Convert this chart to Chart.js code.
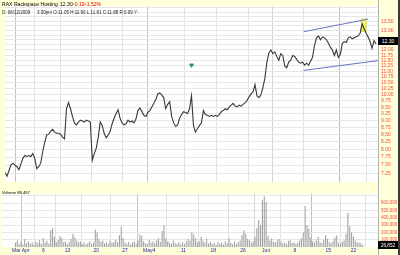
<!DOCTYPE html>
<html><head><meta charset="utf-8">
<script src="https://cdn.jsdelivr.net/npm/chart.js@4.4.0/dist/chart.umd.min.js"></script>
<style>
html,body{margin:0;padding:0;background:#fff;}
#wrap{position:relative;width:400px;height:255px;overflow:hidden;background:#ffffd8;}
canvas{position:absolute;left:0;}
#c1{top:0;}
#c2{top:188px;}
.t{position:absolute;font-family:'Liberation Sans',Arial,sans-serif;white-space:nowrap;line-height:1;transform-origin:0 0;transform:scale(0.5);}
.box{position:absolute;left:378px;width:20px;height:8px;background:#000;}
.box span{position:absolute;left:0;top:0;width:40px;height:16px;line-height:16px;text-align:center;color:#fff;font-family:'Liberation Sans',Arial,sans-serif;transform-origin:0 0;transform:scale(0.5);}
</style></head><body>
<div id="wrap">
<canvas id="c1" width="400" height="188" style="width:400px;height:188px"></canvas>
<canvas id="c2" width="400" height="67" style="width:400px;height:67px"></canvas>
<div class="t" style="left:2px;top:2px;font-size:10.2px;color:#000">RAX Rackspace Hosting</div>
<div class="t" style="left:60px;top:2px;font-size:10.2px;color:#000">12.30</div>
<div class="t" style="left:73px;top:2px;font-size:10.2px;color:#e00000">-0.19</div>
<div class="t" style="left:85px;top:2px;font-size:10.2px;color:#e00000">-1.52%</div>
<div class="t" style="left:2px;top:10px;font-size:9px;color:#222">D: 06/12/2009</div>
<div class="t" style="left:37px;top:10px;font-size:9px;color:#222">3:30pm O:11.05 H:11.90 L:11.81 C:11.88 R:0.09 Y:</div>
<div class="t" style="left:2px;top:190px;font-size:8.4px;color:#000">Volume 88,467</div>
<div class="box" style="top:37px;"><span style="font-size:10px">12.30</span></div>
<div class="box" style="top:241px;"><span style="font-size:9.2px">26,852</span></div>
</div>
<script>
// ---- data ----
const closePrices = [7.27,7.17,7.33,7.50,7.56,7.50,7.45,7.36,7.53,7.71,7.80,7.77,7.80,7.77,7.86,7.71,7.39,7.45,7.56,7.92,
8.22,8.48,8.51,8.61,8.68,8.58,8.54,8.54,8.51,8.41,8.35,9.44,9.68,9.44,9.15,8.91,8.84,8.94,9.01,8.98,
8.94,9.01,8.98,8.94,7.65,7.86,8.04,8.41,8.94,8.81,8.54,8.38,8.48,8.61,8.88,9.08,9.26,9.40,9.08,8.91,
8.84,8.88,9.01,8.94,8.98,8.91,9.05,9.37,9.47,9.33,9.19,9.15,9.30,9.37,9.51,9.65,9.80,10.03,10.07,9.99,
9.88,9.44,9.61,9.72,9.15,8.91,8.78,8.84,9.08,9.22,9.33,9.30,9.26,9.44,9.95,8.81,8.58,8.71,8.81,8.91,
9.37,9.22,9.19,9.15,9.19,9.15,9.19,9.15,9.22,9.33,9.37,9.44,9.40,9.51,9.58,9.65,9.54,9.51,9.58,9.54,
9.61,9.68,9.76,9.91,10.03,10.11,10.42,9.95,9.88,9.99,10.30,10.70,11.42,11.86,12.00,11.82,11.91,11.69,11.51,11.82,
11.73,11.24,11.16,11.42,11.51,11.73,11.69,11.55,11.42,11.37,11.42,11.28,11.37,11.28,11.46,11.64,12.23,12.61,12.71,12.51,
12.66,12.61,12.51,12.33,12.14,12.00,11.73,12.00,11.64,11.78,12.33,12.42,12.37,12.61,12.66,12.56,12.61,12.66,12.71,12.85,
13.35,13.09,12.85,12.66,12.42,12.09,12.47,12.30];

const volumes = [60000,90000,40000,70000,35000,110000,50000,80000,45000,65000,30000,75000,50000,95000,40000,120000,60000,85000,45000,230000,
260000,140000,70000,95000,150000,120000,60000,80000,40000,70000,110000,180000,130000,90000,60000,75000,40000,65000,35000,55000,
80000,40000,60000,240000,200000,110000,70000,90000,50000,65000,40000,85000,55000,70000,95000,60000,160000,280000,120000,60000,
45000,70000,35000,60000,80000,45000,90000,170000,150000,80000,55000,40000,95000,60000,75000,50000,90000,120000,70000,220000,
300000,120000,80000,60000,45000,90000,55000,40000,70000,35000,60000,45000,80000,110000,90000,200000,170000,120000,60000,80000,
140000,90000,60000,110000,50000,75000,40000,55000,30000,70000,45000,60000,35000,80000,50000,120000,60000,40000,75000,45000,
65000,90000,160000,230000,180000,110000,95000,60000,80000,140000,260000,370000,300000,640000,690000,620000,150000,90000,120000,70000,
60000,90000,110000,75000,50000,60000,40000,85000,100000,55000,70000,40000,60000,90000,120000,200000,560000,300000,250000,130000,
80000,60000,90000,140000,70000,50000,95000,160000,110000,70000,50000,80000,130000,160000,60000,45000,75000,90000,180000,470000,
280000,200000,140000,90000,60000,60000,50000,26852];

const tickIdx    = [0.5, 5.5, 15, 28, 43.5, 59, 72, 90.5, 106.5, 122.5, 135, 150.5, 168.5, 182];
const tickLabels = ['Mar','Apr','6','13','20','27','May4','11','18','26','Jun','8','15','22'];

const priceTicks = [7.25,7.5,7.75,8,8.25,8.5,8.75,9,9.25,9.5,9.75,10,10.25,10.5,10.75,11,11.25,11.5,11.75,12,12.25,12.5,12.75,13,13.25,13.5,13.75,14,14.25];
const priceLabelled = [7.25,7.5,7.75,8,8.25,8.5,8.75,9,9.25,9.5,9.75,10,10.25,10.5,10.75,11,11.25,11.5,11.75,12,12.5,13,13.5];
const volTicks = [100000,200000,300000,400000,500000,600000,700000];
const volLabelled = [100000,200000,300000,400000,500000,600000];

const upperChannelIdx = [150.5, 183];
const upperChannelVal = [12.93, 13.61];
const lowerChannelIdx = [150.5, 188];
const lowerChannelVal = [11.04, 11.49];
const markerIdx = [94];
const markerVal = [11.28];
const hiliteIdx = [179.5, 182];
const hiliteVal = [12.93, 13.62];

// ---- styles ----
const gridColX = ['rgba(0,0,0,0)','#c4c4c4','#e2e2e2','#e2e2e2','#e2e2e2','#e2e2e2','#c4c4c4','#e2e2e2','#e2e2e2','#e2e2e2','#d4d4d4','#e2e2e2','#f2a4a4','#e2e2e2'];
const fontFam = "'Liberation Sans', Arial, sans-serif";

const frame = {
  id:'frame',
  beforeDraw(chart){
    const {ctx, chartArea:a, width, height} = chart;
    ctx.save();
    ctx.fillStyle = '#ffffd8'; ctx.fillRect(0,0,width,height);
    ctx.fillStyle = '#ffffff'; ctx.fillRect(a.left, a.top, a.right-a.left, a.bottom-a.top);
    ctx.restore();
  },
  afterDraw(chart){
    const {ctx, chartArea:a, width, height} = chart;
    ctx.save();
    ctx.strokeStyle = '#b0b0b0'; ctx.lineWidth = 1;
    ctx.beginPath(); ctx.moveTo(a.right+0.5,0); ctx.lineTo(a.right+0.5,height); ctx.stroke();
    ctx.fillStyle = '#3a3a3a'; ctx.fillRect(width-2,0,2,height);
    ctx.restore();
  }
};

const hilite = {
  id:'hilite',
  beforeDatasetsDraw(chart){
    const xs = chart.scales.x, ys = chart.scales.y, ctx = chart.ctx;
    const x0 = xs.getPixelForValue(hiliteIdx[0]), x1 = xs.getPixelForValue(hiliteIdx[1]);
    const y0 = ys.getPixelForValue(hiliteVal[1]), y1 = ys.getPixelForValue(hiliteVal[0]);
    ctx.save();
    ctx.fillStyle = '#f6f25a';
    ctx.fillRect(x0, y0, x1-x0, y1-y0);
    ctx.strokeStyle = '#d8d040'; ctx.lineWidth = 0.6;
    ctx.strokeRect(x0, y0, x1-x0, y1-y0);
    ctx.restore();
  }
};

const xScaleBase = (showLabels) => ({
  type:'linear', min:0, max:188,
  afterBuildTicks(s){ s.ticks = tickIdx.map(v=>({value:v})); },
  grid:{ color:(c)=>gridColX[c.index] || '#e2e2e2', drawTicks:false, lineWidth:1 },
  border:{ display:false },
  ticks:{ display:showLabels, autoSkip:false, maxRotation:0, padding:1, color:'#2222a8',
          font:{size:5, family:fontFam}, callback:(v,i)=>tickLabels[i] }
});

new Chart(document.getElementById('c1'), {
  type:'line',
  data:{ datasets:[
    { data: closePrices.map((v,i)=>({x:i,y:v})), borderColor:'#383838', borderWidth:1.1, pointRadius:0, tension:0, order:2 },
    { data: upperChannelIdx.map((v,i)=>({x:v,y:upperChannelVal[i]})), borderColor:'#6a74c8', borderWidth:1, pointRadius:0, order:1 },
    { data: lowerChannelIdx.map((v,i)=>({x:v,y:lowerChannelVal[i]})), borderColor:'#6a74c8', borderWidth:1, pointRadius:0, order:1 },
    { data: markerIdx.map((v,i)=>({x:v,y:markerVal[i]})), showLine:false, pointStyle:'triangle', rotation:180,
      pointRadius:2.2, backgroundColor:'#2f8f6a', borderColor:'#2f8f6a', order:0 }
  ]},
  options:{
    responsive:false, animation:false, events:[],
    layout:{ padding:{left:2, right:0, top:0, bottom:0} },
    plugins:{ legend:{display:false}, tooltip:{enabled:false} },
    scales:{
      x: xScaleBase(false),
      y:{ type:'logarithmic', position:'right', min:7.0, max:14.36, bounds:'data',
          afterBuildTicks(s){ s.ticks = priceTicks.map(v=>({value:v})); },
          afterFit(s){ s.width = 22; },
          grid:{ color:'#e6e6e6', drawTicks:false },
          border:{ display:false },
          ticks:{ color:'#f04848', padding:3, autoSkip:false, font:{size:5, family:fontFam},
                  callback:(v)=> priceLabelled.includes(v) ? v.toFixed(2) : '' } }
    }
  },
  plugins:[frame, hilite]
});

new Chart(document.getElementById('c2'), {
  type:'bar',
  data:{ datasets:[
    { data: volumes.map((v,i)=>({x:i,y:v})), backgroundColor:'#a4a4a4', barPercentage:0.6, categoryPercentage:1 }
  ]},
  options:{
    responsive:false, animation:false, events:[],
    layout:{ padding:{left:2, right:0, top:1, bottom:0} },
    plugins:{ legend:{display:false}, tooltip:{enabled:false} },
    scales:{
      x: Object.assign(xScaleBase(true), { afterFit(s){ s.height = 8; } }),
      y:{ type:'linear', position:'right', min:0, max:730000,
          afterBuildTicks(s){ s.ticks = volTicks.map(v=>({value:v})); },
          afterFit(s){ s.width = 22; },
          grid:{ color:'#e6e6e6', drawTicks:false },
          border:{ display:false },
          ticks:{ color:'#f04848', padding:3, autoSkip:false, font:{size:4.5, family:fontFam},
                  callback:(v)=> volLabelled.includes(v) ? v.toLocaleString('en-US') : '' } }
    }
  },
  plugins:[frame]
});
</script>
</body></html>
